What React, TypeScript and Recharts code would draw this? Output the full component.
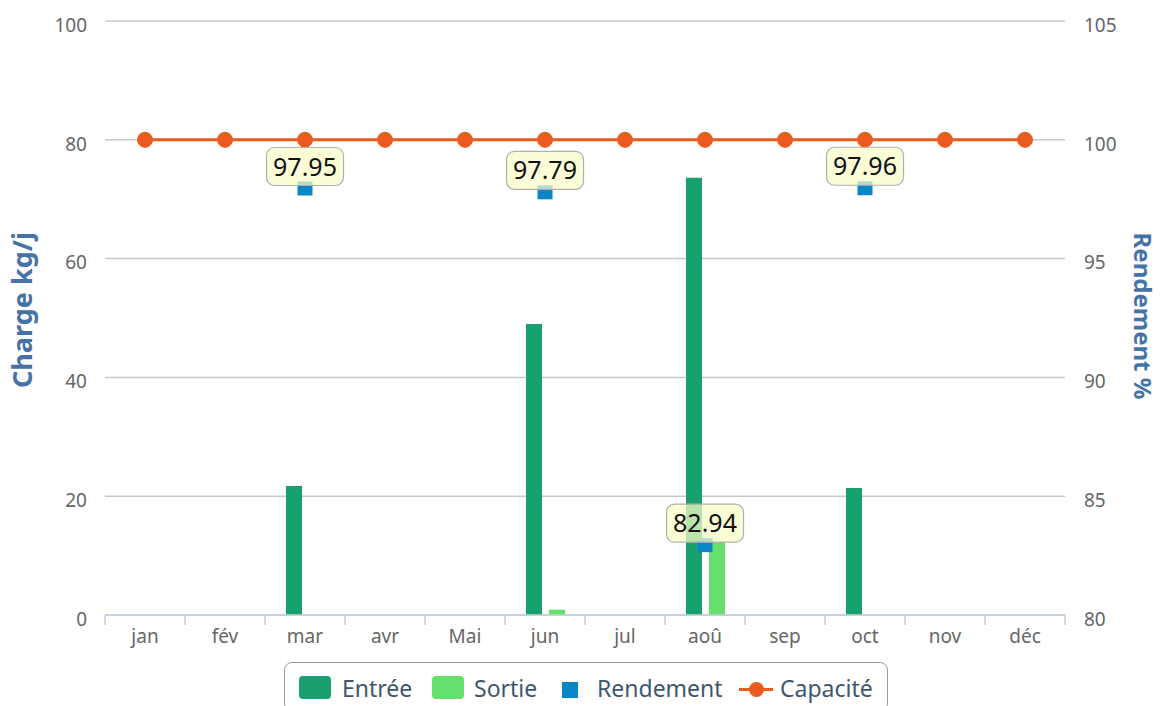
import React from 'react';
import { ComposedChart, Bar, Line, XAxis, YAxis, CartesianGrid, Legend, LabelList } from 'recharts';

const months = ['jan', 'fév', 'mar', 'avr', 'Mai', 'jun', 'jul', 'aoû', 'sep', 'oct', 'nov', 'déc'];
const entree = [0, 0, 21.7, 0, 0, 49.0, 0, 73.6, 0, 21.4, 0, 0];
const sortie = [0, 0, 0, 0, 0, 0.9, 0, 12.3, 0, 0, 0, 0];
const rendement: (number | null)[] = [null, null, 97.95, null, null, 97.79, null, 82.94, null, 97.96, null, null];
const capacite = [100, 100, 100, 100, 100, 100, 100, 100, 100, 100, 100, 100];
const leftTicks = [0, 20, 40, 60, 80, 100];
const rightTicks = [80, 85, 90, 95, 100, 105];

const data = months.map((m, i) => ({
  month: m,
  entree: entree[i],
  sortie: sortie[i],
  rendement: rendement[i],
  capacite: capacite[i],
}));

const C_ENTREE = '#1aa06e';
const C_SORTIE = '#66df6c';
const C_REND = '#0a86c6';
const C_CAP = '#eb5a1e';
const FONT = "'Noto Sans', sans-serif";

const XTick = (props: any) => {
  const { x, y, payload, index } = props;
  const half = 40;
  return (
    <g>
      <line x1={x - half} y1={y} x2={x - half} y2={y + 10} stroke="#c0d0e0" strokeWidth={1.5} />
      {index === months.length - 1 && (
        <line x1={x + half} y1={y} x2={x + half} y2={y + 10} stroke="#c0d0e0" strokeWidth={1.5} />
      )}
      <text x={x} y={y + 28} textAnchor="middle" fill="#666" fontSize={19} fontFamily={FONT}>
        {payload.value}
      </text>
    </g>
  );
};

const RendDot = (props: any) => {
  const { cx, cy, value, index } = props;
  if (cy == null || value == null || isNaN(cy)) return <g key={`rd-${index}`} />;
  return <rect key={`rd-${index}`} x={cx - 7.5} y={cy - 7} width={15} height={14} fill={C_REND} />;
};

const RendLabel = (props: any) => {
  const { x, y, value } = props;
  if (value == null || y == null) return null;
  const w = 77;
  const h = 38;
  const top = y - h - 3;
  return (
    <g>
      <rect x={x - w / 2} y={top} width={w} height={h} rx={8} fill="rgba(250,252,200,0.72)" stroke="#b0b0b0" strokeWidth={1.2} />
      <text x={x} y={top + h / 2} dy="0.36em" textAnchor="middle" fontSize={25} fill="#111" fontFamily={FONT}>
        {Number(value).toFixed(2)}
      </text>
    </g>
  );
};

const legendText: React.CSSProperties = {
  position: 'absolute',
  fontSize: 23,
  lineHeight: '23px',
  top: 14,
  color: '#3e576f',
  fontFamily: FONT,
  whiteSpace: 'nowrap',
};

const LegendBox = () => (
  <div
    style={{
      position: 'relative',
      width: 604,
      height: 50,
      boxSizing: 'border-box',
      border: '1.5px solid #9a9a9a',
      borderRadius: 8,
      background: '#fff',
    }}
  >
    <div style={{ position: 'absolute', left: 14, top: 13, width: 32, height: 23, borderRadius: 4, background: C_ENTREE }} />
    <span style={{ ...legendText, left: 57 }}>Entrée</span>
    <div style={{ position: 'absolute', left: 147, top: 13, width: 32, height: 23, borderRadius: 4, background: C_SORTIE }} />
    <span style={{ ...legendText, left: 189 }}>Sortie</span>
    <div style={{ position: 'absolute', left: 277, top: 19, width: 16, height: 16, background: C_REND }} />
    <span style={{ ...legendText, left: 312 }}>Rendement</span>
    <div style={{ position: 'absolute', left: 454, top: 25, width: 34, height: 3, background: C_CAP }} />
    <div style={{ position: 'absolute', left: 463.5, top: 19, width: 15, height: 15, borderRadius: 8, background: C_CAP }} />
    <span style={{ ...legendText, left: 495 }}>Capacité</span>
  </div>
);

export default function App() {
  return (
    <div style={{ position: 'absolute', left: 0, top: 0, width: 1162, height: 706, fontFamily: FONT, background: '#fff' }}>
      <ComposedChart
        width={1162}
        height={706}
        data={data}
        margin={{ top: 21, right: 0, bottom: 51, left: 0 }}
        barSize={16}
        barGap={7}
      >
        <CartesianGrid yAxisId="left" vertical={false} stroke="#c8c8c8" strokeWidth={1.5} />
        <XAxis
          dataKey="month"
          xAxisId={0}
          height={40}
          tickSize={0}
          tickMargin={0}
          tickLine={false}
          axisLine={{ stroke: '#c0d0e0', strokeWidth: 1.5 }}
          interval={0}
          tick={<XTick />}
        />
        <YAxis
          yAxisId="left"
          width={105}
          domain={[0, 100]}
          ticks={leftTicks}
          axisLine={false}
          tickLine={false}
          tickSize={0}
          tickMargin={18}
          tick={{ fill: '#666', fontSize: 19, dy: 4 }}
          label={{
            value: 'Charge kg/j',
            angle: -90,
            position: 'center',
            dx: -30,
            dy: -8,
            style: { fill: '#4572a7', fontSize: 27, fontWeight: 'bold', textAnchor: 'middle' },
          }}
        />
        <YAxis
          yAxisId="right"
          orientation="right"
          width={97}
          domain={[80, 105]}
          ticks={rightTicks}
          axisLine={false}
          tickLine={false}
          tickSize={0}
          tickMargin={19}
          tick={{ fill: '#666', fontSize: 19, dy: 4 }}
          label={{
            value: 'Rendement %',
            angle: 90,
            position: 'center',
            dx: 29,
            dy: -2,
            style: { fill: '#4572a7', fontSize: 24, fontWeight: 'bold', textAnchor: 'middle' },
          }}
        />
        <Bar yAxisId="left" dataKey="entree" name="Entrée" fill={C_ENTREE} isAnimationActive={false} />
        <Bar yAxisId="left" dataKey="sortie" name="Sortie" fill={C_SORTIE} isAnimationActive={false} />
        <Line
          yAxisId="right"
          dataKey="capacite"
          name="Capacité"
          stroke={C_CAP}
          strokeWidth={3}
          dot={{ r: 7.5, fill: C_CAP, stroke: C_CAP, strokeWidth: 1 }}
          activeDot={false}
          isAnimationActive={false}
        />
        <Line
          yAxisId="right"
          dataKey="rendement"
          name="Rendement"
          stroke="none"
          dot={<RendDot />}
          activeDot={false}
          isAnimationActive={false}
        >
          <LabelList dataKey="rendement" content={<RendLabel />} />
        </Line>
        <Legend
          layout="horizontal"
          verticalAlign="middle"
          align="center"
          wrapperStyle={{ left: 284, top: 662, width: 604, height: 50 }}
          content={() => <LegendBox />}
        />
      </ComposedChart>
    </div>
  );
}
